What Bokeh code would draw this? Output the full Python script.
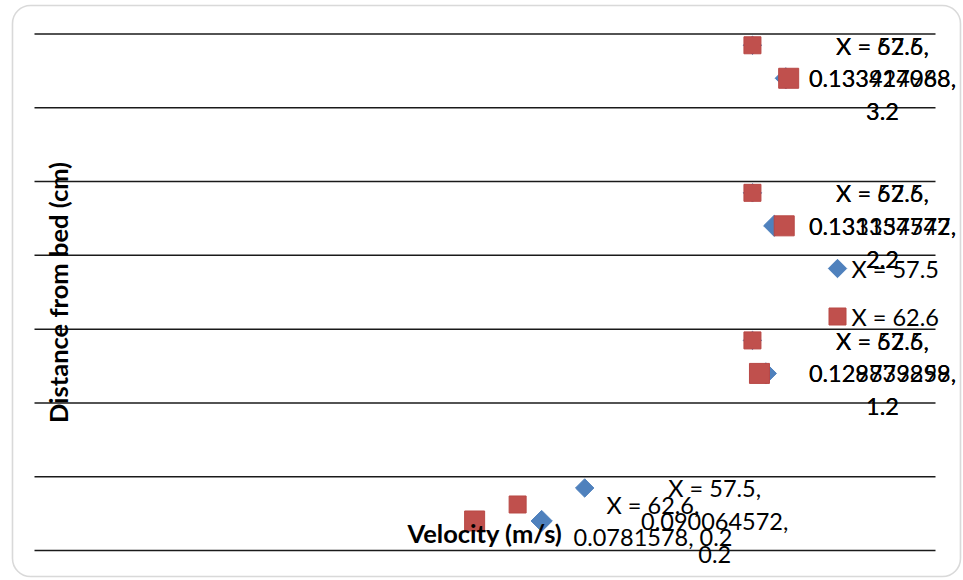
from bokeh.plotting import figure
from bokeh.models import Range1d, Label, BoxAnnotation, ColumnDataSource
from bokeh.core.properties import value
from bokeh.embed import file_html
from bokeh.resources import INLINE
import math

# ---- data -------------------------------------------------------------
series_names = ["X = 57.5", "X = 62.6"]
distance_cm = [0.2, 1.2, 2.2, 3.2]
velocity_x575 = [0.090064572, 0.129873299, 0.131357742, 0.133414968]
velocity_x626 = [0.0781578, 0.128739858, 0.133134577, 0.133927088]
grid_levels = [0.0, 0.5, 1.0, 1.5, 2.0, 2.5, 3.0, 3.5]

colors = ["#4F81BD", "#C0504D"]
edge_colors = ["#4F81BD", "#B84845"]

# ---- layout -----------------------------------------------------------
W, H = 963, 580
# plot area: x 0 -> 0.16 spans px 34..935, y 0 -> 3.5 spans px 550..33.5
AX_L, AX_R, XMIN, XMAX = 34.0, 935.0, 0.0, 0.16
AX_B, AX_T, YMIN, YMAX = 550.0, 33.5, 0.0, 3.5
px_x = (AX_R - AX_L) / (XMAX - XMIN)
px_y = (AX_B - AX_T) / (YMAX - YMIN)
X0 = XMIN - AX_L / px_x
X1 = XMAX + (W - AX_R) / px_x
Y0 = YMIN - (H - AX_B) / px_y
Y1 = YMAX + AX_T / px_y


def to_x(px):
    return X0 + px / px_x


def to_y(py):
    return Y0 + (H - py) / px_y


FONT = "Lato"
LBL_SIZE = 23.5
LINE_H = 33
LABEL_RIGHT_LIMIT = 956   # data labels are kept inside the chart border

p = figure(width=W, height=H, output_backend="svg", toolbar_location=None,
           x_range=Range1d(X0, X1), y_range=Range1d(Y0, Y1),
           x_axis_location=None, y_axis_location=None,
           min_border_left=0, min_border_right=0,
           min_border_top=0, min_border_bottom=0)
p.outline_line_color = None
p.background_fill_color = "white"
p.border_fill_color = "white"
p.xgrid.visible = False
p.ygrid.visible = False

# horizontal gridlines across the plot area
p.segment(x0=[XMIN] * len(grid_levels), x1=[XMAX] * len(grid_levels),
          y0=grid_levels, y1=grid_levels, line_color="#1a1a1a", line_width=1.5)

# rounded chart border
p.add_layout(BoxAnnotation(left=12, right=960, top=5, bottom=576,
                           left_units="canvas", right_units="canvas",
                           top_units="canvas", bottom_units="canvas",
                           fill_alpha=0, line_color="#808080", line_width=1.6,
                           border_radius=18))

# ---- label geometry helpers ----------------------------------------------
EM = {d: 0.58 for d in "0123456789"}
EM.update({".": 0.25, ",": 0.25, " ": 0.2, "X": 0.6, "=": 0.58})


def text_w(s):
    return sum(EM.get(c, 0.55) for c in s) * LBL_SIZE


def wrap(tokens, max_w=172):
    lines = [tokens[0]]
    for t in tokens[1:]:
        cand = lines[-1] + " " + t
        if text_w(cand) <= max_w:
            lines[-1] = cand
        else:
            lines.append(t)
    return lines


markers = [dict(marker="square", angle=math.pi / 4, size=15, key_size=13),
           dict(marker="square", angle=0.0, size=20, key_size=17)]

label_sets = []
for name, vel, col, ecol, mk in zip(series_names, [velocity_x575, velocity_x626],
                                    colors, edge_colors, markers):
    texts, offs, kx, ky = [], [], [], []
    for x, y in zip(vel, distance_cm):
        lines = wrap([f"{name},", f"{x},", f"{y}"])
        w = max(text_w(s) for s in lines)
        sx = AX_L + (x - XMIN) * px_x
        left = sx + 99
        if left + w > LABEL_RIGHT_LIMIT:
            left = LABEL_RIGHT_LIMIT - w
        offs.append(left + w / 2 - sx)
        texts.append("\n".join(lines))
        kx.append(to_x(left - 56))
        ky.append(y + (len(lines) - 1) / 2 * LINE_H / px_y)
    src = ColumnDataSource(dict(x=vel, y=distance_cm))
    p.scatter("x", "y", source=src, marker=mk["marker"], angle=mk["angle"],
              size=mk["size"], fill_color=col, line_color=ecol, line_width=1)
    # legend keys shown beside each data label
    p.scatter(kx, ky, marker=mk["marker"], angle=mk["angle"], size=mk["key_size"],
              fill_color=col, line_color=ecol, line_width=1)
    label_sets.append(ColumnDataSource(dict(x=vel, y=distance_cm, text=texts, xo=offs)))

for ls in label_sets:
    p.text("x", "y", text="text", x_offset="xo", source=ls,
           text_font=value(FONT), text_font_size=f"{LBL_SIZE}px", text_color="black",
           text_align="center", text_baseline="middle", text_line_height=1.17)

# legend (key + name)
for i, (name, col, ecol, mk) in enumerate(zip(series_names, colors, edge_colors, markers)):
    ky_px = 268 + 48 * i
    p.scatter([to_x(837)], [to_y(ky_px)], marker=mk["marker"], angle=mk["angle"],
              size=mk["key_size"], fill_color=col, line_color=ecol, line_width=1)
    p.add_layout(Label(x=851, y=H - ky_px, x_units="screen", y_units="screen", text=name,
                       text_font=FONT, text_font_size=f"{LBL_SIZE}px", text_color="black",
                       text_align="left", text_baseline="middle"))

# axis titles
p.add_layout(Label(x=407, y=H - 532, x_units="screen", y_units="screen", text="Velocity (m/s)",
                   text_font=FONT, text_font_style="bold", text_font_size="25.5px",
                   text_color="black", text_align="left", text_baseline="middle"))
p.add_layout(Label(x=57, y=H - 292, x_units="screen", y_units="screen",
                   text="Distance from bed (cm)", angle=math.pi / 2,
                   text_font=FONT, text_font_style="bold", text_font_size="25.5px",
                   text_color="black", text_align="center", text_baseline="middle"))

open("out.html", "w").write(file_html(p, INLINE))
